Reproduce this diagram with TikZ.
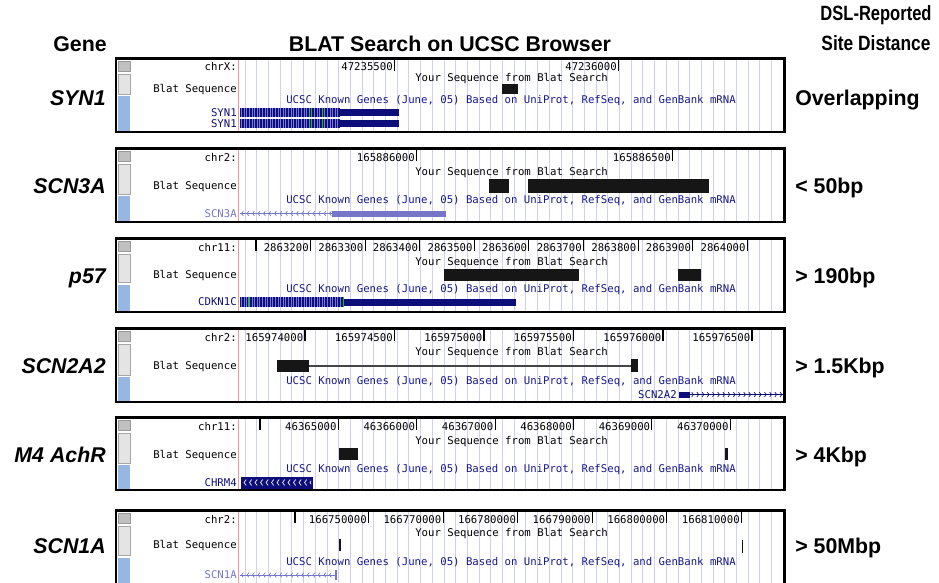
\documentclass[tikz,border=0pt]{standalone}
\usepackage{fontspec}
\setmainfont{Liberation Sans}
\newfontfamily\monof{DejaVu Sans Mono}
\definecolor{navyg}{RGB}{14,14,122}
\definecolor{ucscc}{RGB}{24,24,140}
\definecolor{slatec}{RGB}{118,118,200}
\definecolor{gridc}{RGB}{208,208,246}
\definecolor{pinkc}{RGB}{240,150,150}
\definecolor{blatc}{RGB}{22,22,22}
\definecolor{sideg}{RGB}{192,192,192}
\definecolor{sidel}{RGB}{228,228,228}
\definecolor{sideb}{RGB}{152,182,226}
\definecolor{greenc}{RGB}{0,210,0}
\definecolor{stripec}{RGB}{120,120,215}
\tikzset{
  mono/.style={font=\monof\fontsize{8}{8}\selectfont, inner sep=0pt, text height=5.8pt, text depth=0pt},
  hdr/.style={font=\bfseries\fontsize{16}{16}\selectfont, inner sep=0pt, text height=11.5pt, text depth=0pt},
  hdrnarrow/.style={font=\bfseries\fontsize{15.5}{15.5}\selectfont, inner sep=0pt, text height=11.1pt, text depth=0pt},
  gname/.style={font=\bfseries\itshape\fontsize{16}{16}\selectfont, inner sep=0pt, text height=11.5pt, text depth=0pt, anchor=east},
  dist/.style={hdr, anchor=west},
  tickline/.style={line width=0.8pt}
}
\newcommand{\ucscframe}[3]{%
  \fill[white] (116,#1) rectangle (785,#2);
  \foreach \gx in {245,256.7,...,782} \draw[gridc, line width=0.6pt] (\gx,#1) -- (\gx,#2);
  \draw[pinkc, line width=0.6pt] (238.5,#1) -- (238.5,#2);
  \filldraw[fill=sideg, draw=gray!80, line width=0.4pt] (118,#1+3) rectangle (130,#1+13);
  \filldraw[fill=sidel, draw=gray!70, line width=0.4pt] (118,#1+16) rectangle (130,#3-6);
  \fill[sideb] (118,#3-4) rectangle (130,#2-1);
  \draw[line width=1.5pt] (116,#1) rectangle (785,#2);
  \draw[line width=1.2pt] (116,#1+1) -- (785,#1+1) (784,#1) -- (784,#2);
}
\newcommand{\rtick}[4]{%
  \draw[tickline] (#1,#2+1) -- (#1,#2+13);
  \node[mono, anchor=east] at (#1-1.5,#3) {#4};
}
\newcommand{\stripebar}[4]{%
  \fill[navyg] (#1,#3) rectangle (#2,#4);
  \begin{scope}
    \clip (#1,#3) rectangle (#2,#4);
    \foreach \sx in {1.5,4.1,...,130} \draw[stripec, line width=0.35pt] (#1+\sx,#3) -- (#1+\sx,#4);
  \end{scope}
}
\newcommand{\chevleft}[4]{%
  \draw[#4, line width=0.6pt] (#1,#3) -- (#2,#3);
  \begin{scope}
    \clip (#1,#3-4) rectangle (#2,#3+4);
    \foreach \cx in {1.5,7,...,140} \draw[#4, line width=0.5pt] (#1+\cx+1.8,#3-2.3) -- (#1+\cx,#3) -- (#1+\cx+1.8,#3+2.3);
  \end{scope}
}
\newcommand{\chevright}[4]{%
  \draw[#4, line width=0.6pt] (#1,#3) -- (#2,#3);
  \begin{scope}
    \clip (#1,#3-4) rectangle (#2,#3+4);
    \foreach \cx in {3.5,8.7,...,140} \draw[#4, line width=0.5pt] (#1+\cx-1.8,#3-2.3) -- (#1+\cx,#3) -- (#1+\cx-1.8,#3+2.3);
  \end{scope}
}
\begin{document}
\begin{tikzpicture}[x=0.75pt,y=-0.75pt]
\useasboundingbox (0,0) rectangle (939,582);
\clip (0,0) rectangle (939,582);

% headers
\node[hdr] (hGene) at (80,44) {Gene};
\node[hdr] (hBlat) at (450,44) {BLAT Search on UCSC Browser};
\node[hdrnarrow] (hDslA) at (876,13.5) {\scalebox{0.8}[1]{DSL-Reported}};
\node[hdrnarrow] (hDslB) at (876,43) {\scalebox{0.84}[1]{Site Distance}};

% gene names and distances
\node[gname] (g1) at (106,98) {SYN1};
\node[gname] (g2) at (106,186) {SCN3A};
\node[gname] (g3) at (106,276) {p57};
\node[gname] (g4) at (106,366) {SCN2A2};
\node[gname] (g5) at (106,455) {M4 AchR};
\node[gname] (g6) at (106,546) {SCN1A};
\node[dist] (d1) at (795,98) {Overlapping};
\node[dist] (d2) at (795,186) {< 50bp};
\node[dist] (d3) at (795,276) {> 190bp};
\node[dist] (d4) at (795,366) {> 1.5Kbp};
\node[dist] (d5) at (795,455) {> 4Kbp};
\node[dist] (d6) at (795,546) {> 50Mbp};

% ---------- panel 1 : SYN1
\ucscframe{58}{132}{100}
\node[mono,anchor=east] (p1chr) at (237,67) {chrX:};
\rtick{394.5}{58}{67}{47235500}
\rtick{618.5}{58}{67}{47236000}
\node[mono,anchor=west] (p1ys) at (415,78) {Your Sequence from Blat Search};
\node[mono,anchor=east] (p1bs) at (237,88.5) {Blat Sequence};
\fill[blatc] (502,84) rectangle (518,94);
\node[mono,anchor=west,text=ucscc] (p1kg) at (286,100) {UCSC Known Genes (June, 05) Based on UniProt, RefSeq, and GenBank mRNA};
\node[mono,anchor=east,text=navyg] (p1ga) at (237,112.5) {SYN1};
\stripebar{240}{340}{108}{117}
\fill[navyg] (340,109) rectangle (399,116);
\draw[greenc, line width=0.7pt] (311,108) -- (311,117) (322,108) -- (322,117);
\node[mono,anchor=east,text=navyg] (p1gb) at (237,123.5) {SYN1};
\stripebar{240}{340}{119}{128}
\fill[navyg] (340,120) rectangle (399,127);
\draw[greenc, line width=0.7pt] (311,119) -- (311,128) (322,119) -- (322,128);

% ---------- panel 2 : SCN3A
\ucscframe{148}{222}{200}
\node[mono,anchor=east] (p2chr) at (237,158) {chr2:};
\rtick{416.5}{148}{158}{165886000}
\rtick{672.5}{148}{158}{165886500}
\node[mono,anchor=west] (p2ys) at (415,172) {Your Sequence from Blat Search};
\node[mono,anchor=east] (p2bs) at (237,186) {Blat Sequence};
\fill[blatc] (489,179) rectangle (509,193);
\fill[blatc] (528,179) rectangle (709,193);
\node[mono,anchor=west,text=ucscc] (p2kg) at (286,200) {UCSC Known Genes (June, 05) Based on UniProt, RefSeq, and GenBank mRNA};
\node[mono,anchor=east,text=slatec] (p2g) at (237,213.5) {SCN3A};
\chevleft{240}{332}{213.5}{slatec}
\fill[slatec] (332,210.5) rectangle (446,216.5);

% ---------- panel 3 : p57
\ucscframe{238}{312}{288.5}
\node[mono,anchor=east] (p3chr) at (237,248) {chr11:};
\draw[tickline] (256,239) -- (256,251);
\rtick{310.5}{238}{248}{2863200}
\rtick{365.1}{238}{248}{2863300}
\rtick{419.7}{238}{248}{2863400}
\rtick{474.3}{238}{248}{2863500}
\rtick{528.9}{238}{248}{2863600}
\rtick{583.5}{238}{248}{2863700}
\rtick{638.1}{238}{248}{2863800}
\rtick{692.7}{238}{248}{2863900}
\rtick{747.3}{238}{248}{2864000}
\node[mono,anchor=west] (p3ys) at (415,262) {Your Sequence from Blat Search};
\node[mono,anchor=east] (p3bs) at (237,275) {Blat Sequence};
\fill[blatc] (444,269) rectangle (579,281);
\fill[blatc] (678,269) rectangle (701,281);
\node[mono,anchor=west,text=ucscc] (p3kg) at (286,288.5) {UCSC Known Genes (June, 05) Based on UniProt, RefSeq, and GenBank mRNA};
\node[mono,anchor=east,text=navyg] (p3g) at (237,302) {CDKN1C};
\stripebar{240}{343}{297}{307}
\fill[navyg] (343,298.5) rectangle (516,305.5);
\draw[greenc, line width=0.7pt] (248,297) -- (248,307) (343,297) -- (343,307);

% ---------- panel 4 : SCN2A2
\ucscframe{328}{402}{381}
\node[mono,anchor=east] (p4chr) at (237,338) {chr2:};
\rtick{305}{328}{338}{165974000}
\rtick{394.5}{328}{338}{165974500}
\rtick{484}{328}{338}{165975000}
\rtick{573.5}{328}{338}{165975500}
\rtick{663}{328}{338}{165976000}
\rtick{752}{328}{338}{165976500}
\node[mono,anchor=west] (p4ys) at (415,352) {Your Sequence from Blat Search};
\node[mono,anchor=east] (p4bs) at (237,366) {Blat Sequence};
\fill[blatc] (277,360) rectangle (309,372);
\draw[blatc!80, line width=0.8pt] (309,366) -- (632,366);
\fill[blatc] (631,359) rectangle (638,372);
\node[mono,anchor=west,text=ucscc] (p4kg) at (286,381) {UCSC Known Genes (June, 05) Based on UniProt, RefSeq, and GenBank mRNA};
\node[mono,anchor=east,text=navyg] (p4g) at (677,394.5) {SCN2A2};
\fill[navyg] (679,391.5) rectangle (690,397.5);
\chevright{690}{783}{394.5}{navyg}

% ---------- panel 5 : M4 AchR
\ucscframe{417}{490}{469}
\node[mono,anchor=east] (p5chr) at (237,427) {chr11:};
\draw[tickline] (260,418) -- (260,430);
\rtick{338.3}{417}{427}{46365000}
\rtick{416.7}{417}{427}{46366000}
\rtick{495.1}{417}{427}{46367000}
\rtick{573.5}{417}{427}{46368000}
\rtick{651.9}{417}{427}{46369000}
\rtick{730.3}{417}{427}{46370000}
\node[mono,anchor=west] (p5ys) at (415,440.5) {Your Sequence from Blat Search};
\node[mono,anchor=east] (p5bs) at (237,454.5) {Blat Sequence};
\fill[blatc] (339,448) rectangle (358,460);
\fill[blatc] (725,448) rectangle (728,460);
\node[mono,anchor=west,text=ucscc] (p5kg) at (286,469) {UCSC Known Genes (June, 05) Based on UniProt, RefSeq, and GenBank mRNA};
\node[mono,anchor=east,text=navyg] (p5g) at (237,482.5) {CHRM4};
\fill[navyg] (241,476.5) rectangle (313,488.5);
\begin{scope}
  \clip (241,476.5) rectangle (311,488.5);
  \foreach \cx in {3,8.5,...,75} \draw[white, line width=0.5pt] (241+\cx+2.2,479.5) -- (241+\cx,482.5) -- (241+\cx+2.2,485.5);
\end{scope}

% ---------- panel 6 : SCN1A
\ucscframe{510}{600}{561.5}
\node[mono,anchor=east] (p6chr) at (237,519.5) {chr2:};
\draw[tickline] (295,511) -- (295,523);
\rtick{368.5}{510}{519.5}{166750000}
\rtick{443.1}{510}{519.5}{166770000}
\rtick{517.7}{510}{519.5}{166780000}
\rtick{592.3}{510}{519.5}{166790000}
\rtick{666.9}{510}{519.5}{166800000}
\rtick{741.5}{510}{519.5}{166810000}
\node[mono,anchor=west] (p6ys) at (415,533) {Your Sequence from Blat Search};
\node[mono,anchor=east] (p6bs) at (237,545) {Blat Sequence};
\draw[blatc, line width=1pt] (340,539) -- (340,551);
\draw[blatc, line width=1pt] (742.5,540) -- (742.5,553);
\node[mono,anchor=west,text=ucscc] (p6kg) at (286,561.5) {UCSC Known Genes (June, 05) Based on UniProt, RefSeq, and GenBank mRNA};
\node[mono,anchor=east,text=slatec] (p6g) at (237,575) {SCN1A};
\chevleft{240}{336}{575}{slatec}
\draw[slatec, line width=1pt] (336,570) -- (336,580);
\end{tikzpicture}
\end{document}
